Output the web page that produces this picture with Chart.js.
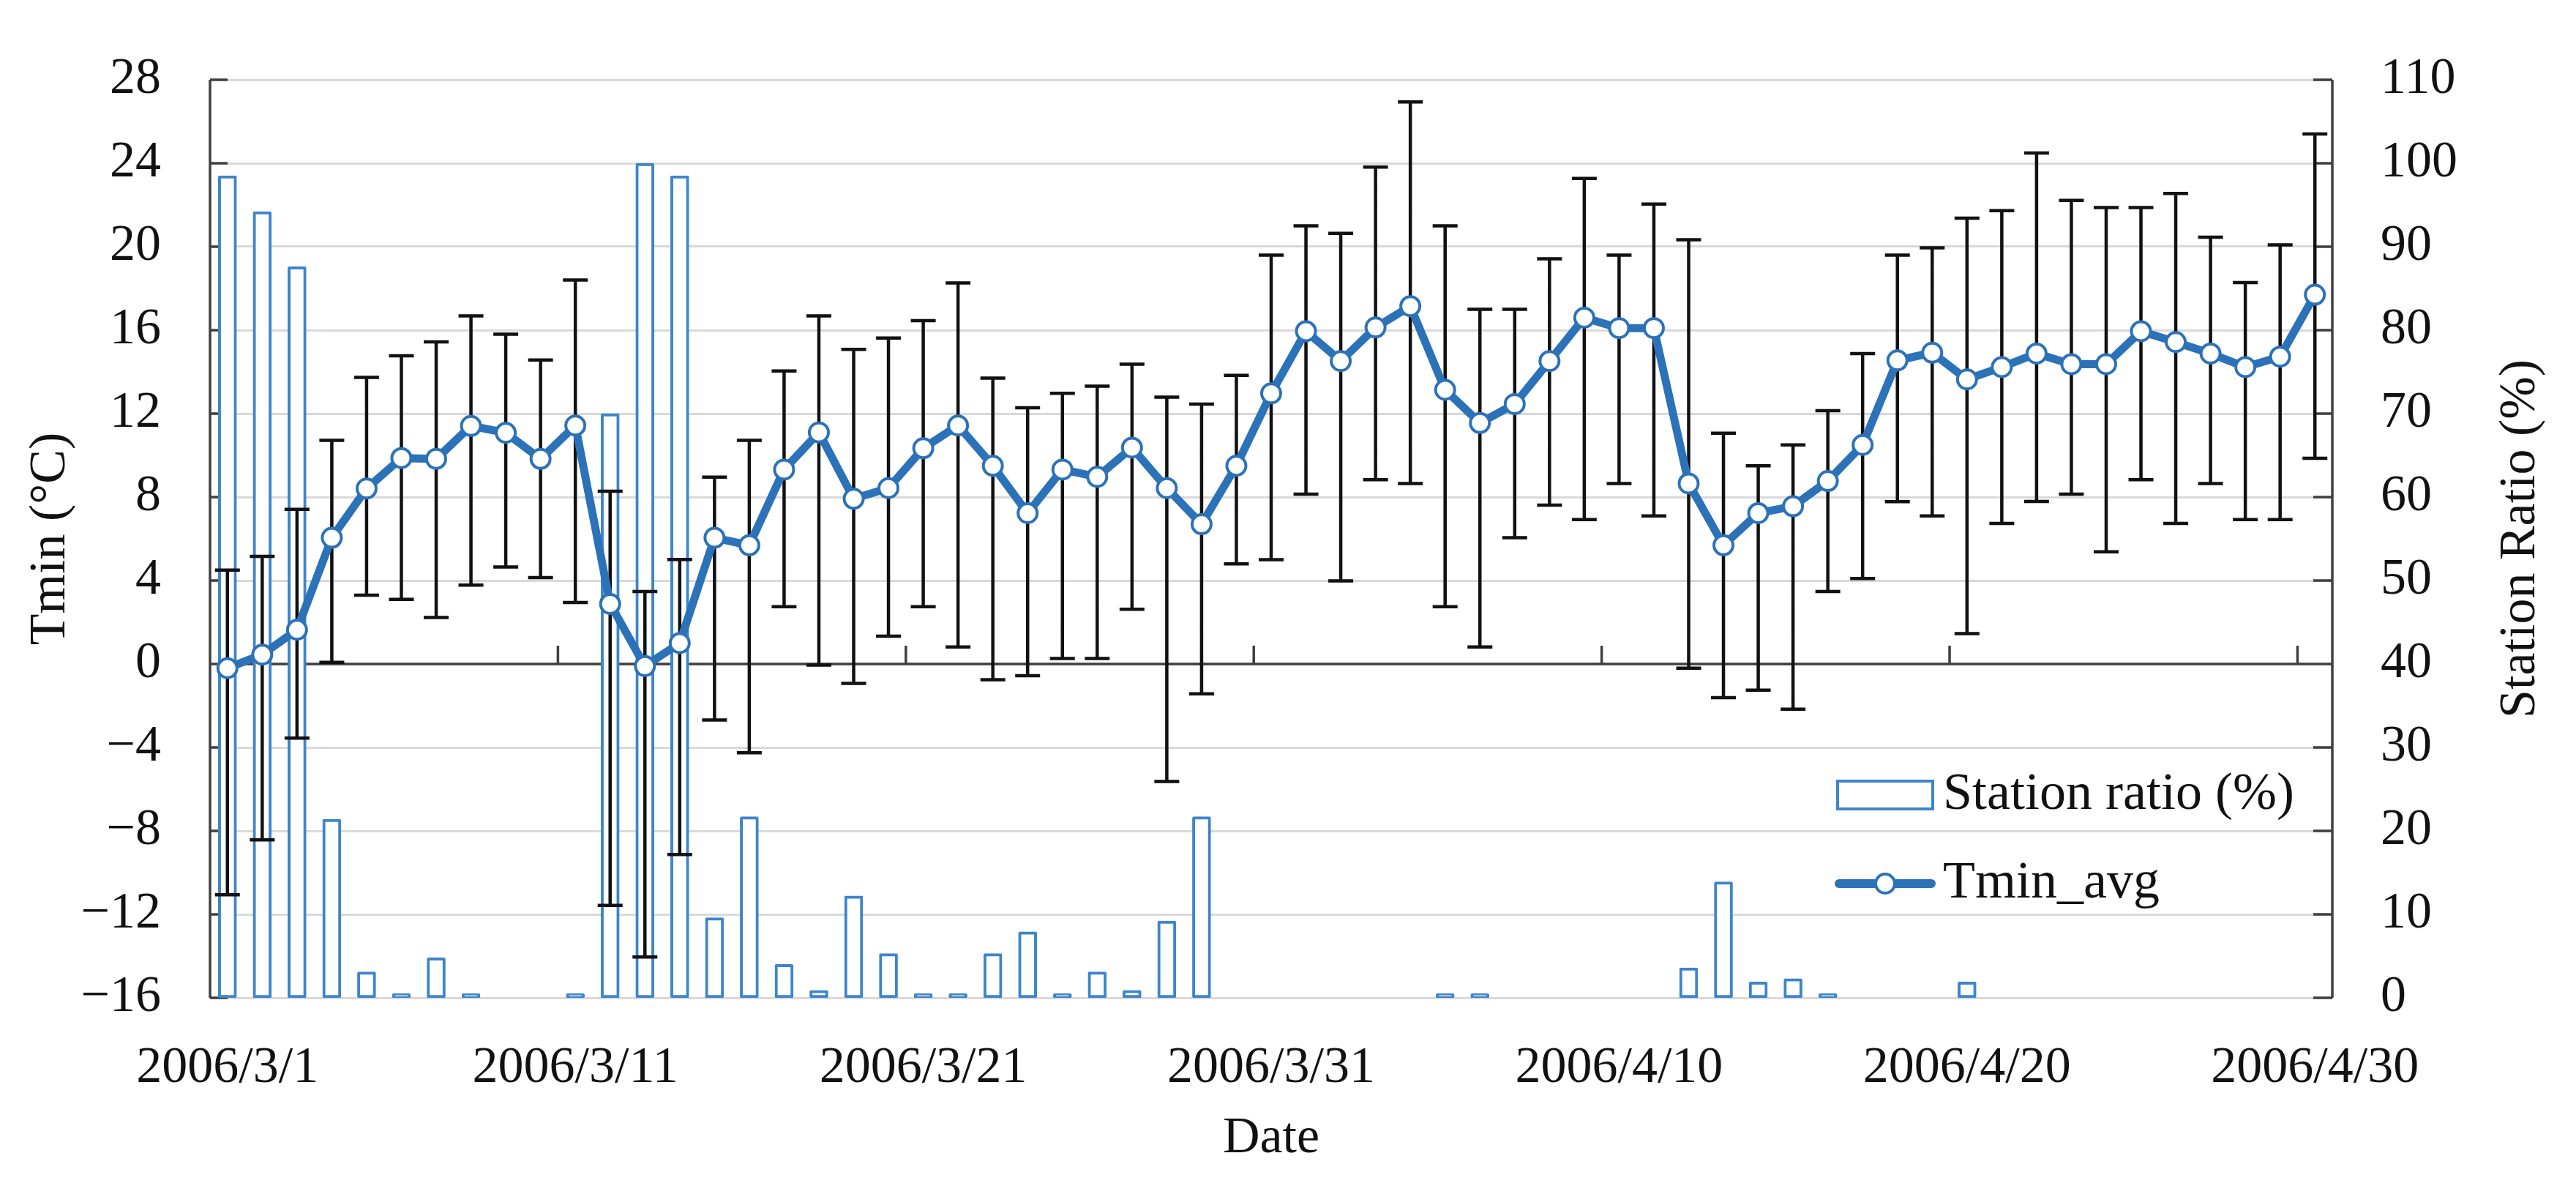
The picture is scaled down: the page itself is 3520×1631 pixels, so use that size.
<!DOCTYPE html>
<html>
<head>
<meta charset="utf-8">
<script src="https://cdn.jsdelivr.net/npm/chart.js@4.4.1/dist/chart.umd.min.js"></script>
<style>
  html, body { margin: 0; padding: 0; background: #fff; }
  canvas { display: block; }
</style>
</head>
<body>
<canvas id="chart" width="3520" height="1631"></canvas>
<script>
const dates = [
    '2006/3/1', '2006/3/2', '2006/3/3', '2006/3/4', '2006/3/5', '2006/3/6', '2006/3/7', '2006/3/8',
    '2006/3/9', '2006/3/10', '2006/3/11', '2006/3/12', '2006/3/13', '2006/3/14', '2006/3/15', '2006/3/16',
    '2006/3/17', '2006/3/18', '2006/3/19', '2006/3/20', '2006/3/21', '2006/3/22', '2006/3/23', '2006/3/24',
    '2006/3/25', '2006/3/26', '2006/3/27', '2006/3/28', '2006/3/29', '2006/3/30', '2006/3/31',
    '2006/4/1', '2006/4/2', '2006/4/3', '2006/4/4', '2006/4/5', '2006/4/6', '2006/4/7', '2006/4/8',
    '2006/4/9', '2006/4/10', '2006/4/11', '2006/4/12', '2006/4/13', '2006/4/14', '2006/4/15', '2006/4/16',
    '2006/4/17', '2006/4/18', '2006/4/19', '2006/4/20', '2006/4/21', '2006/4/22', '2006/4/23', '2006/4/24',
    '2006/4/25', '2006/4/26', '2006/4/27', '2006/4/28', '2006/4/29', '2006/4/30'
];

// mean minimum temperature (°C)
const tminAvg = [
    -0.2, 0.45, 1.64, 6.05, 8.41, 9.87, 9.83, 11.41, 11.08, 9.83, 11.43, 2.88, -0.1,
    1.0, 6.05, 5.69, 9.32, 11.1, 7.92, 8.43, 10.34, 11.43, 9.5, 7.23, 9.32, 8.97, 10.37, 8.43, 6.7, 9.5, 12.97,
    15.95, 14.52, 16.13, 17.15, 13.14, 11.55, 12.46, 14.52, 16.6, 16.1, 16.1, 8.65, 5.69, 7.23, 7.56, 8.77, 10.5, 14.55,
    14.92, 13.64, 14.23, 14.88, 14.37, 14.37, 15.95, 15.43, 14.88, 14.23, 14.73, 17.7
];

// error bar ends (°C)
const tminUpper = [
    4.5, 5.16, 7.41, 10.72, 13.74, 14.77, 15.44, 16.68, 15.81, 14.57, 18.4, 8.28, 3.47,
    5.01, 8.96, 10.72, 14.04, 16.68, 15.08, 15.62, 16.46, 18.26, 13.7, 12.28, 12.97, 13.32, 14.37, 12.79, 12.46, 13.83, 19.6,
    21.0, 20.64, 23.82, 26.94, 21.0, 17.0, 17.0, 19.42, 23.27, 19.6, 22.04, 20.33, 11.06, 9.5, 10.5, 12.14, 14.88, 19.6,
    19.95, 21.37, 21.73, 24.49, 22.22, 21.88, 21.88, 22.55, 20.46, 18.28, 20.09, 25.4
];
const tminLower = [
    -11.06, -8.43, -3.55, 0.08, 3.3, 3.1, 2.23, 3.78, 4.65, 4.14, 2.95, -11.57, -14.04,
    -9.13, -2.68, -4.25, 2.75, -0.05, -0.93, 1.33, 2.75, 0.82, -0.75, -0.56, 0.26, 0.26, 2.62, -5.63, -1.43, 4.8, 5.0,
    8.14, 3.98, 8.83, 8.65, 2.75, 0.82, 6.05, 7.61, 6.92, 8.65, 7.1, -0.2, -1.61, -1.25, -2.17, 3.47, 4.1, 7.78,
    7.1, 1.46, 6.74, 7.79, 8.14, 5.38, 8.83, 6.74, 8.65, 6.92, 6.92, 9.86
];

// station ratio (%), null = no bar
const stationRatio = [
    98.5, 94.2, 87.6, 21.4, 3.1, 0.5, 4.8, 0.5, null, null, 0.5,
    70, 100, 98.5, 9.6, 21.7, 4.0, 0.9, 12.2, 5.3, 0.5, 0.5, 5.3, 7.9, 0.5, 3.1, 0.9, 9.2, 21.7,
    null, null, null, null, null, null, 0.5, 0.5, null, null, null, null, null,
    3.6, 13.9, 1.9, 2.3, 0.5, null, null, null, 1.9,
    null, null, null, null, null, null, null, null, null, null
];

const FONT = '"Liberation Serif", "Times New Roman", serif';
const BLUE = '#2C72B8';
const BAR_BLUE = '#3D85CC';
const AXIS = '#404040';

const minus = v => String(v).replace('-', '\u2212');

// axis lines, zero line and inside tick marks like the Excel original
const axesPlugin = {
    id: 'axesPlugin',
    beforeDatasetsDraw(chart) {
        const { ctx, chartArea: a, scales } = chart;
        const y0 = scales.y.getPixelForValue(0);
        ctx.save();
        ctx.strokeStyle = AXIS;
        ctx.lineWidth = 3.5;
        ctx.beginPath();
        ctx.moveTo(a.left, a.top); ctx.lineTo(a.left, a.bottom);
        ctx.moveTo(a.right, a.top); ctx.lineTo(a.right, a.bottom);
        ctx.moveTo(a.left, y0); ctx.lineTo(a.right, y0);
        scales.y.ticks.forEach(t => {
            const p = scales.y.getPixelForValue(t.value);
            ctx.moveTo(a.left, p); ctx.lineTo(a.left + 24, p);
        });
        scales.y1.ticks.forEach(t => {
            const p = scales.y1.getPixelForValue(t.value);
            ctx.moveTo(a.right, p); ctx.lineTo(a.right - 26, p);
        });
        for (let i = 10; i < dates.length; i += 10) {
            const xb = (scales.x.getPixelForValue(i - 1) + scales.x.getPixelForValue(i)) / 2;
            ctx.moveTo(xb, y0); ctx.lineTo(xb, y0 - 25);
        }
        ctx.stroke();
        ctx.restore();
    }
};

// error bars drawn right after the bars, so the line sits on top
const errorBarPlugin = {
    id: 'errorBarPlugin',
    afterDatasetDraw(chart, args) {
        if (args.index !== 0) return;
        const { ctx, scales } = chart;
        ctx.save();
        ctx.strokeStyle = '#111';
        ctx.lineWidth = 4.5;
        ctx.beginPath();
        tminAvg.forEach((v, i) => {
            const x = scales.x.getPixelForValue(i);
            const yt = scales.y.getPixelForValue(tminUpper[i]);
            const yb = scales.y.getPixelForValue(tminLower[i]);
            ctx.moveTo(x, yt); ctx.lineTo(x, yb);
            ctx.moveTo(x - 17, yt); ctx.lineTo(x + 17, yt);
            ctx.moveTo(x - 17, yb); ctx.lineTo(x + 17, yb);
        });
        ctx.stroke();
        ctx.restore();
    }
};

// axis titles and the in-plot legend
const labelsPlugin = {
    id: 'labelsPlugin',
    afterDraw(chart) {
        const { ctx, chartArea: a } = chart;
        const midY = (a.top + a.bottom) / 2;
        ctx.save();
        ctx.fillStyle = '#111';
        ctx.font = '70px ' + FONT;
        ctx.textAlign = 'center';
        ctx.textBaseline = 'middle';

        ctx.fillText('Date', (a.left + a.right) / 2, 1556);

        ctx.save();
        ctx.translate(70, midY);
        ctx.rotate(-Math.PI / 2);
        ctx.fillText('Tmin (\u00B0C)', 0, 0);
        ctx.restore();

        ctx.save();
        ctx.translate(3445, midY);
        ctx.rotate(-Math.PI / 2);
        ctx.fillText('Station Ratio (%)', 0, 0);
        ctx.restore();

        // legend
        const lx = 2509, lw = 134, ly1 = 1086, ly2 = 1207;
        ctx.fillStyle = '#fff';
        ctx.strokeStyle = BAR_BLUE;
        ctx.lineWidth = 4;
        ctx.fillRect(lx, ly1 - 21, lw, 42);
        ctx.strokeRect(lx + 2, ly1 - 19, lw - 4, 38);

        ctx.strokeStyle = BLUE;
        ctx.lineWidth = 12;
        ctx.lineCap = 'round';
        ctx.beginPath();
        ctx.moveTo(lx + 4, ly2); ctx.lineTo(lx + lw - 4, ly2);
        ctx.stroke();
        ctx.beginPath();
        ctx.arc(lx + lw / 2, ly2, 13, 0, Math.PI * 2);
        ctx.fillStyle = '#fff';
        ctx.fill();
        ctx.lineWidth = 4;
        ctx.stroke();

        ctx.fillStyle = '#111';
        ctx.font = '72px ' + FONT;
        ctx.textAlign = 'left';
        ctx.fillText('Station ratio (%)', lx + lw + 12, ly1);
        ctx.fillText('Tmin_avg', lx + lw + 12, ly2);
        ctx.restore();
    }
};

const tickFont = { family: FONT, size: 70 };

new Chart(document.getElementById('chart'), {
    data: {
        labels: dates,
        datasets: [
            {
                type: 'bar',
                label: 'Station ratio (%)',
                data: stationRatio,
                yAxisID: 'y1',
                order: 2,
                backgroundColor: '#fff',
                borderColor: BAR_BLUE,
                borderWidth: 4,
                borderSkipped: false,
                borderRadius: 2,
                barThickness: 25
            },
            {
                type: 'line',
                label: 'Tmin_avg',
                data: tminAvg,
                yAxisID: 'y',
                order: 1,
                borderColor: BLUE,
                borderWidth: 11,
                tension: 0,
                pointRadius: 13,
                pointBorderWidth: 4,
                pointBackgroundColor: '#fff',
                pointBorderColor: BLUE
            }
        ]
    },
    options: {
        responsive: false,
        animation: false,
        devicePixelRatio: 1,
        layout: { padding: { top: 97, left: 0, right: 0, bottom: 0 } },
        plugins: {
            legend: { display: false },
            tooltip: { enabled: false }
        },
        scales: {
            x: {
                offset: true,
                grid: { display: false },
                border: { display: false },
                ticks: {
                    autoSkip: false,
                    maxRotation: 0,
                    minRotation: 0,
                    padding: 47,
                    color: '#111',
                    font: tickFont,
                    callback: (v, i) => (i % 10 === 0 ? dates[i] : '')
                },
                afterFit: s => { s.height = 268; }
            },
            y: {
                position: 'left',
                min: -16,
                max: 28,
                grid: { color: '#d9d9d9', lineWidth: 3, drawTicks: false },
                border: { display: false },
                ticks: { stepSize: 4, padding: 67, color: '#111', font: tickFont, callback: minus },
                afterFit: s => { s.width = 287; }
            },
            y1: {
                position: 'right',
                min: 0,
                max: 110,
                grid: { display: false, drawTicks: false },
                border: { display: false },
                ticks: { stepSize: 10, padding: 66, color: '#111', font: tickFont },
                afterFit: s => { s.width = 333; }
            }
        }
    },
    plugins: [axesPlugin, errorBarPlugin, labelsPlugin]
});
</script>
</body>
</html>
